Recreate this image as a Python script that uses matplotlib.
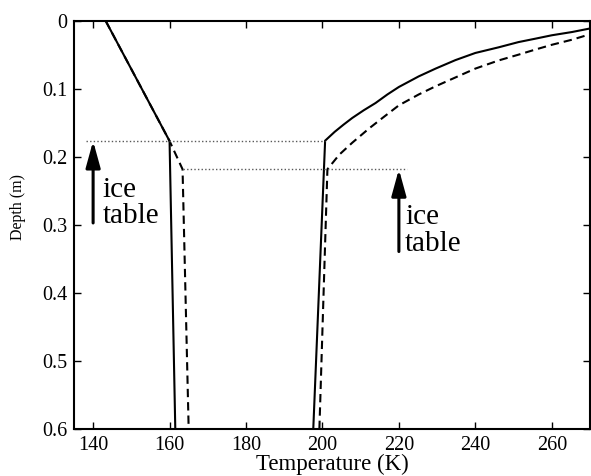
import matplotlib
matplotlib.use("Agg")
import matplotlib.pyplot as plt

# ---- data ----
solid_left_T = [143.3, 160.0, 161.5]
solid_left_d = [0.0, 0.1765, 0.6]

dashed_left_T = [143.3, 160.0, 163.4, 165.0]
dashed_left_d = [0.0, 0.1765, 0.218, 0.6]

solid_right_T = [197.6, 200.7, 203.2, 205.5, 207.8, 210.8, 213.9, 217.0, 220.0, 225.2,
                 229.6, 234.8, 240.0, 246.1, 251.3, 255.7, 260.0, 265.3, 270.0]
solid_right_d = [0.6, 0.176, 0.163, 0.1525, 0.1426, 0.1313, 0.1206, 0.108, 0.097, 0.0814,
                 0.070, 0.0575, 0.047, 0.0387, 0.031, 0.026, 0.021, 0.0162, 0.011]

dashed_right_T = [199.2, 201.3, 204.4, 207.8, 212.2, 215.7, 220.0, 225.2, 229.6,
                  234.8, 240.0, 246.1, 251.3, 255.7, 260.0, 265.3, 270.0]
dashed_right_d = [0.6, 0.218, 0.1966, 0.179, 0.158, 0.1426, 0.124, 0.108, 0.096,
                  0.083, 0.070, 0.058, 0.0495, 0.042, 0.035, 0.0275, 0.0195]

ice_table_1 = 0.1765
ice_table_2 = 0.218
dotted1_T = [138.1, 200.7]
dotted2_T = [163.4, 222.0]

arrow1_T, arrow1_tail = 140.0, 0.297
arrow2_T, arrow2_tail = 220.0, 0.339

label_text = "ice\ntable"

xticks = [140, 160, 180, 200, 220, 240, 260]
yticks = [0, 0.1, 0.2, 0.3, 0.4, 0.5, 0.6]
ytick_labels = ["0", "0.1", "0.2", "0.3", "0.4", "0.5", "0.6"]

plt.rcParams['font.family'] = ['Liberation Serif', 'DejaVu Serif']

fig = plt.figure(figsize=(5.91, 4.76), dpi=100)
ax = fig.add_axes([74/591, 1-429/476, 516/591, 408/476])

ax.plot(solid_left_T, solid_left_d, color='k', lw=1.5, solid_joinstyle='miter')
ax.plot(dashed_left_T, dashed_left_d, color='k', lw=1.5, linestyle=(0, (4, 2.4)))
ax.plot(solid_right_T, solid_right_d, color='k', lw=1.5, solid_joinstyle='miter')
ax.plot(dashed_right_T, dashed_right_d, color='k', lw=1.5, linestyle=(0, (4, 2.4)))

ax.plot(dotted1_T, [ice_table_1, ice_table_1], color='0.35', lw=1.0, linestyle=(0, (1, 1.6)))
ax.plot(dotted2_T, [ice_table_2, ice_table_2], color='0.35', lw=1.0, linestyle=(0, (1, 1.6)))

aprops = dict(arrowstyle='-|>,head_length=0.8,head_width=0.22', lw=2.2, color='k',
              mutation_scale=20, shrinkA=0, shrinkB=0)
ax.annotate('', xy=(arrow1_T, ice_table_1), xytext=(arrow1_T, arrow1_tail), arrowprops=aprops)
ax.annotate('', xy=(arrow2_T, ice_table_2), xytext=(arrow2_T, arrow2_tail), arrowprops=aprops)

tfs = 21
ax.text(142.45, 0.2297, label_text, fontsize=tfs, ha='left', va='top', linespacing=1.0)
ax.text(221.6, 0.269, label_text, fontsize=tfs, ha='left', va='top', linespacing=1.05)

ax.set_xlim(135, 270)
ax.set_ylim(0.6, 0)
ax.set_xticks(xticks)
ax.set_xticklabels([str(t) for t in xticks])
ax.set_yticks(yticks)
ax.set_yticklabels(ytick_labels)
ax.tick_params(direction='in', length=5, width=1, top=True, right=True,
               labelsize=14.5, pad=5)
for s in ax.spines.values():
    s.set_linewidth(1.5)

ax.set_xlabel('Temperature (K)', fontsize=16.5, labelpad=-1)
fig.text(18/591, 1-207.5/476, 'Depth (m)', rotation=90, ha='center', va='center', fontsize=11.5)

fig.savefig('out.png', dpi=100)
